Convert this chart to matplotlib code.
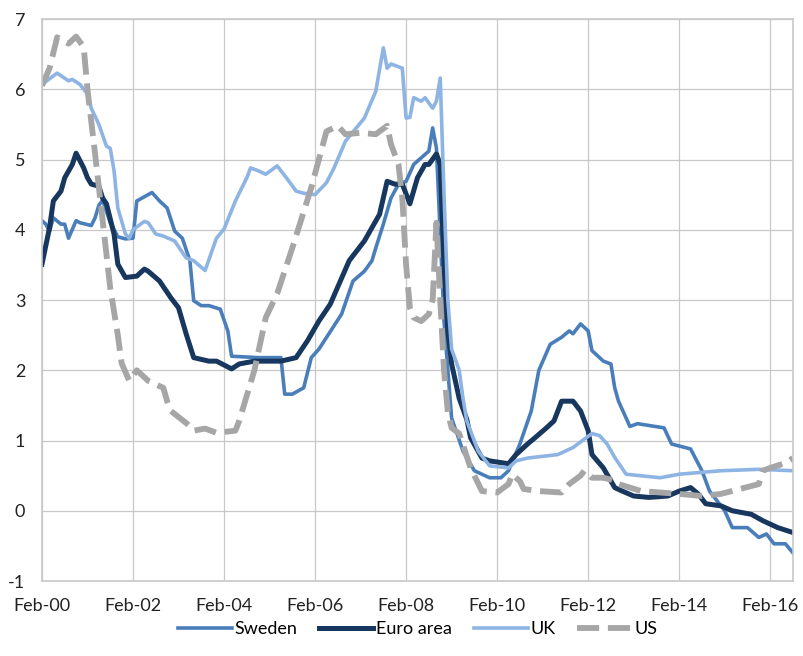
import matplotlib
matplotlib.use("Agg")
import matplotlib.pyplot as plt

# months counted from Feb-2000 (0 = Feb-00)
sweden_m = [0, 1, 2, 3, 5, 6, 7, 9, 10, 13, 14, 15, 16, 18, 20, 22, 24, 25, 28, 29, 31, 33, 35, 37,
            39, 40, 42, 44, 47, 49, 50, 57, 63, 64, 66, 69, 71, 73, 79, 82, 85, 87, 88, 90, 92, 94,
            96, 98, 102, 103, 104, 106, 108, 111, 114, 118, 121, 123, 126, 129, 131, 134, 137, 139,
            140, 142, 144, 145, 148, 150, 151, 152, 155, 157, 164, 166, 171, 174, 176, 180, 182,
            186, 189, 191, 193, 196, 198]
sweden_v = [4.13, 4.08, 3.98, 4.17, 4.08, 4.08, 3.88, 4.13, 4.10, 4.06, 4.17, 4.35, 4.42, 4.10, 3.90,
            3.87, 3.88, 4.41, 4.50, 4.53, 4.41, 4.31, 3.98, 3.88, 3.56, 2.99, 2.92, 2.92, 2.87, 2.56,
            2.20, 2.18, 2.18, 1.66, 1.66, 1.75, 2.18, 2.30, 2.80, 3.27, 3.41, 3.56, 3.74, 4.08, 4.45,
            4.65, 4.69, 4.93, 5.12, 5.45, 5.16, 2.70, 1.32, 0.85, 0.57, 0.47, 0.47, 0.57, 0.95, 1.42,
            2.00, 2.37, 2.47, 2.56, 2.52, 2.66, 2.56, 2.28, 2.13, 2.09, 1.75, 1.56, 1.20, 1.24, 1.18,
            0.95, 0.88, 0.57, 0.28, 0.00, -0.24, -0.24, -0.38, -0.33, -0.47, -0.47, -0.60]

euro_m = [0, 2, 3, 5, 6, 8, 9, 11, 12, 13, 15, 16, 17, 19, 20, 22, 25, 27, 28, 31, 34, 36, 38, 40,
          44, 46, 50, 52, 56, 63, 67, 70, 73, 76, 81, 85, 89, 91, 93, 95, 97, 99, 101, 102, 104,
          105, 106, 107, 108, 110, 112, 113, 116, 118, 123, 125, 128, 130, 133, 135, 137, 140, 142,
          144, 145, 148, 151, 153, 156, 160, 165, 168, 171, 173, 175, 179, 182, 187, 190, 194, 198]
euro_v = [3.51, 4.03, 4.41, 4.55, 4.74, 4.93, 5.09, 4.88, 4.74, 4.65, 4.62, 4.45, 4.37, 3.94, 3.51,
          3.32, 3.34, 3.44, 3.41, 3.27, 3.03, 2.89, 2.52, 2.18, 2.13, 2.13, 2.02, 2.09, 2.13, 2.13,
          2.18, 2.42, 2.70, 2.94, 3.56, 3.84, 4.22, 4.69, 4.65, 4.65, 4.37, 4.74, 4.93, 4.93, 5.08,
          4.93, 3.51, 2.56, 2.09, 1.60, 1.30, 1.04, 0.75, 0.71, 0.67, 0.80, 0.95, 1.04, 1.18, 1.28,
          1.56, 1.56, 1.42, 1.14, 0.80, 0.61, 0.33, 0.28, 0.21, 0.19, 0.21, 0.28, 0.33, 0.24, 0.10,
          0.07, 0.00, -0.05, -0.14, -0.24, -0.31]

uk_m = [0, 4, 7, 8, 10, 12, 13, 15, 17, 18, 19, 20, 22, 23, 24, 27, 28, 30, 32, 35, 38, 40, 43, 46,
        48, 51, 54, 55, 57, 59, 62, 65, 67, 69, 72, 75, 77, 80, 85, 88, 90, 91, 92, 95, 96, 97, 98,
        100, 101, 103, 104, 105, 106, 107, 108, 110, 111, 112, 115, 118, 123, 125, 128, 136, 140,
        145, 147, 149, 151, 154, 163, 168, 179, 189, 198]
uk_v = [6.07, 6.23, 6.12, 6.14, 6.07, 5.93, 5.73, 5.50, 5.19, 5.16, 4.84, 4.31, 3.94, 3.88, 4.00,
        4.12, 4.10, 3.94, 3.91, 3.84, 3.60, 3.56, 3.42, 3.88, 4.01, 4.41, 4.74, 4.88, 4.84, 4.79,
        4.91, 4.70, 4.55, 4.52, 4.50, 4.67, 4.88, 5.26, 5.59, 5.97, 6.59, 6.30, 6.36, 6.30, 5.59,
        5.60, 5.88, 5.83, 5.88, 5.73, 5.83, 6.16, 4.50, 3.00, 2.30, 2.00, 1.60, 1.28, 0.85, 0.64,
        0.61, 0.71, 0.75, 0.80, 0.90, 1.10, 1.07, 0.95, 0.76, 0.52, 0.47, 0.52, 0.57, 0.59, 0.57]

us_m = [0, 2, 4, 7, 9, 11, 12, 14, 16, 18, 20, 21, 23, 25, 28, 32, 33, 34, 38, 40, 43, 46, 51, 52,
        56, 59, 62, 66, 71, 75, 78, 80, 84, 88, 91, 92, 94, 95, 96, 97, 98, 100, 102, 103, 104, 105,
        106, 107, 108, 110, 113, 116, 120, 123, 124, 126, 127, 131, 137, 139, 142, 143, 145, 148,
        151, 152, 158, 168, 174, 179, 184, 189, 190, 192, 196, 198]
us_v = [6.05, 6.30, 6.74, 6.65, 6.75, 6.60, 6.00, 5.08, 4.13, 3.17, 2.50, 2.10, 1.85, 2.00, 1.85,
        1.75, 1.56, 1.42, 1.25, 1.14, 1.17, 1.11, 1.14, 1.28, 2.00, 2.75, 3.09, 3.74, 4.60, 5.40,
        5.48, 5.36, 5.38, 5.36, 5.48, 5.22, 4.93, 4.45, 3.50, 2.89, 2.75, 2.70, 2.80, 3.00, 4.10,
        3.00, 2.00, 1.40, 1.18, 1.10, 0.61, 0.28, 0.26, 0.38, 0.52, 0.42, 0.31, 0.28, 0.26, 0.38,
        0.50, 0.57, 0.47, 0.47, 0.43, 0.38, 0.28, 0.24, 0.21, 0.24, 0.31, 0.38, 0.57, 0.61, 0.68,
        0.75]

tick_m = [0, 24, 48, 72, 96, 120, 144, 168, 192]
tick_labels = ["Feb-00", "Feb-02", "Feb-04", "Feb-06", "Feb-08", "Feb-10", "Feb-12", "Feb-14", "Feb-16"]

plt.rcParams['font.family'] = ['Lato', 'DejaVu Sans']
plt.rcParams['axes.unicode_minus'] = False

fig = plt.figure(figsize=(8.04, 6.56), dpi=100)
ax = fig.add_axes([0.0522, 0.1143, 0.9341, 0.8567])

ax.plot(sweden_m, sweden_v, color="#4A7EBB", lw=2.6, label="Sweden")
ax.plot(euro_m, euro_v, color="#17375E", lw=3.6, label="Euro area")
ax.plot(uk_m, uk_v, color="#8DB4E2", lw=2.6, label="UK")
ax.plot(us_m, us_v, color="#A6A6A6", lw=4.2, dashes=(3.8, 1.5), label="US")

ax.set_xlim(0, 198)
ax.set_ylim(-1, 7)
ax.set_xticks(tick_m)
ax.set_xticklabels(tick_labels)
ax.set_yticks(range(-1, 8))
ax.tick_params(length=0, labelsize=13, colors="#222222")
ax.tick_params(axis="x", pad=12)
ax.tick_params(axis="y", pad=12)
ax.grid(True, color="#C8C8C8", lw=0.9)
ax.set_axisbelow(True)
for s in ax.spines.values():
    s.set_color("#C8C8C8")
    s.set_linewidth(1.2)

ax.legend(loc="upper center", bbox_to_anchor=(0.5, -0.042), ncol=4, frameon=False,
          fontsize=13, handlelength=3.0, columnspacing=1.2, handletextpad=0.15)

fig.savefig("out.png", dpi=100)
